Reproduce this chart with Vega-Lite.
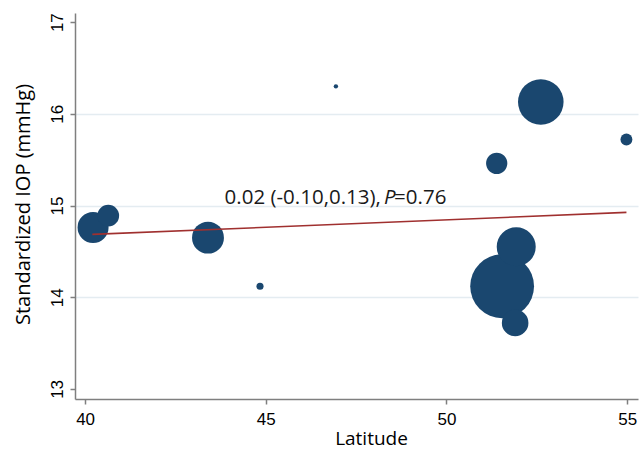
{
  "$schema": "https://vega.github.io/schema/vega-lite/v6.json",
  "autosize": {"type": "none"},
  "padding": {"left": 75, "top": 13, "right": 2, "bottom": 50},
  "width": 563,
  "height": 386,
  "background": "white",
  "config": {
    "view": {"stroke": null},
    "font": "Open Sans"
  },
  "datasets": {
    "studies": [
      {"latitude": 40.22, "iop": 14.76, "weight": 306},
      {"latitude": 40.64, "iop": 14.89, "weight": 150},
      {"latitude": 43.40, "iop": 14.65, "weight": 324},
      {"latitude": 44.84, "iop": 14.12, "weight": 16},
      {"latitude": 46.94, "iop": 16.30, "weight": 6},
      {"latitude": 51.39, "iop": 15.46, "weight": 144},
      {"latitude": 52.61, "iop": 16.13, "weight": 660},
      {"latitude": 54.98, "iop": 15.72, "weight": 45},
      {"latitude": 51.54, "iop": 14.12, "weight": 1296},
      {"latitude": 51.93, "iop": 14.55, "weight": 484},
      {"latitude": 51.90, "iop": 13.72, "weight": 225}
    ],
    "fit": [
      {"latitude": 40.20, "iop": 14.685},
      {"latitude": 54.98, "iop": 14.925}
    ]
  },
  "layer": [
    {
      "data": {"name": "studies"},
      "mark": {"type": "circle", "opacity": 1, "color": "#1a476f"},
      "encoding": {
        "x": {
          "field": "latitude", "type": "quantitative",
          "scale": {"domain": [39.72, 55.3], "nice": false, "zero": false},
          "axis": {
            "title": "Latitude", "values": [40, 45, 50, 55], "format": "d",
            "grid": false, "tickSize": 5, "tickColor": "#7f7f7f", "domainColor": "#7f7f7f",
            "domainWidth": 1.5, "tickWidth": 1.5,
            "labelFont": "Liberation Sans", "labelFontSize": 17, "labelColor": "#000000", "labelPadding": 7,
            "titleFont": "Open Sans", "titleFontSize": 19, "titleFontWeight": "normal", "titleColor": "#000000",
            "titlePadding": 2, "titleX": 296, "titleAlign": "center"
          }
        },
        "y": {
          "field": "iop", "type": "quantitative",
          "scale": {"domain": [12.89, 17.1], "nice": false, "zero": false},
          "axis": {
            "title": "Standardized IOP (mmHg)", "values": [13, 14, 15, 16, 17], "format": "d",
            "grid": true, "gridWidth": 1.5,
            "gridColor": {"condition": {"test": "datum.value == 13 || datum.value == 17", "value": "transparent"}, "value": "#e4ecf1"},
            "tickSize": 5, "tickColor": "#7f7f7f", "domainColor": "#7f7f7f", "domainWidth": 1.5, "tickWidth": 1.5,
            "labelAngle": -90, "labelAlign": "center", "labelBaseline": "alphabetic",
            "labelFont": "Liberation Sans", "labelFontSize": 17, "labelColor": "#000000", "labelPadding": 8,
            "titleFont": "Open Sans", "titleFontSize": 20, "titleFontWeight": "normal", "titleColor": "#000000",
            "titleX": -52, "titleY": 191, "titleAngle": -90, "titleAlign": "center", "titleBaseline": "middle"
          }
        },
        "size": {
          "field": "weight", "type": "quantitative",
          "scale": {"type": "linear", "domain": [0, 1296], "range": [0, 4072], "zero": true},
          "legend": null
        }
      }
    },
    {
      "data": {"name": "fit"},
      "mark": {"type": "line", "color": "#a0302f", "strokeWidth": 1.6},
      "encoding": {
        "x": {"field": "latitude", "type": "quantitative"},
        "y": {"field": "iop", "type": "quantitative"}
      }
    },
    {
      "data": {"values": [{"label": "0.02 (-0.10,0.13),"}]},
      "mark": {"type": "text", "align": "left", "baseline": "alphabetic", "font": "Open Sans", "fontSize": 20.5, "color": "#1a1a1a"},
      "encoding": {
        "x": {"datum": 43.86, "type": "quantitative"},
        "y": {"datum": 15.014, "type": "quantitative"},
        "text": {"field": "label"}
      }
    },
    {
      "data": {"values": [{"label": "P"}]},
      "mark": {"type": "text", "align": "left", "baseline": "alphabetic", "font": "Open Sans", "fontSize": 20.5, "fontStyle": "italic", "color": "#1a1a1a"},
      "encoding": {
        "x": {"datum": 48.27, "type": "quantitative"},
        "y": {"datum": 15.014, "type": "quantitative"},
        "text": {"field": "label"}
      }
    },
    {
      "data": {"values": [{"label": "=0.76"}]},
      "mark": {"type": "text", "align": "left", "baseline": "alphabetic", "font": "Open Sans", "fontSize": 20.5, "color": "#1a1a1a"},
      "encoding": {
        "x": {"datum": 48.55, "type": "quantitative"},
        "y": {"datum": 15.014, "type": "quantitative"},
        "text": {"field": "label"}
      }
    }
  ]
}
